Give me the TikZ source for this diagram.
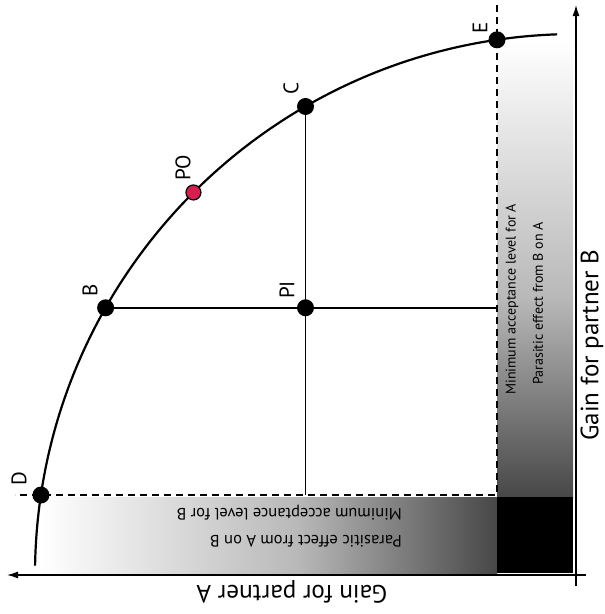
\documentclass[tikz,border=0pt]{standalone}
\usepackage{fontspec}
\setmainfont{PT Sans}
\usetikzlibrary{arrows.meta, positioning, calc}
\definecolor{PointRed}{RGB}{214,30,80}

\begin{document}
\begin{tikzpicture}[x=1pt, y=-1pt,
    dot/.style={circle, fill=black, inner sep=0pt, minimum size=17pt},
    redDot/.style={circle, fill=PointRed, draw=black, line width=1.2pt, inner sep=0pt, minimum size=15pt},
    ptlabel/.style={rotate=90, font=\fontsize{21}{25}\selectfont, inner sep=0pt},
    bandtextA/.style={font=\fontsize{14}{17}\selectfont, inner sep=0pt, rotate=90, anchor=west},
    bandtextB/.style={font=\fontsize{16.5}{19}\selectfont, inner sep=0pt, rotate=180, anchor=west},
    axistext/.style={font=\fontsize{25}{29}\selectfont, inner sep=0pt},
    guide/.style={dash pattern=on 7pt off 5pt, line width=1.3pt},
    axisline/.style={line width=1.3pt, -{Latex[length=11pt,width=7pt]}},
  ]
  \useasboundingbox (0,0) rectangle (605,614);

  % shaded bands and the corner square
  \shade[left color=white, right color=black!28] (40,497) rectangle (300,573);
  \shade[left color=black!28, right color=black!72] (299.5,497) rectangle (497,573);
  \shade[top color=white, bottom color=black!28] (497,40) rectangle (573,300);
  \shade[top color=black!28, bottom color=black!72] (497,299.5) rectangle (573,497);
  \fill[black] (497,497) rectangle (573,573);

  % minimum acceptance levels
  \coordinate (topV) at (497,5);
  \coordinate (corner) at (497,495);
  \coordinate (leftH) at (15,495);
  \draw[guide] (topV) -- (corner) -- (leftH);

  % axes
  \coordinate (O) at (576,575);
  \coordinate (xStart) at (586,575);
  \coordinate (xEnd) at (7,575);
  \coordinate (yStart) at (576,586);
  \coordinate (yEnd) at (576,5);
  \draw[axisline] (xStart) -- (xEnd);
  \draw[axisline] (yStart) -- (yEnd);

  % points on the frontier
  \path (O) ++(188.5:541) coordinate (pD);
  \path (O) ++(209.6:541) coordinate (pB);
  \path (O) ++(225:541) coordinate (pPO);
  \path (O) ++(240:541) coordinate (pC);
  \path (O) ++(261.6:541) coordinate (pE);
  \coordinate (Bstop) at (pB -| corner);
  \coordinate (Cstop) at (pC |- corner);

  \draw[line width=1.6pt] (pB) -- (Bstop);
  \draw[line width=1.6pt] (pC) -- (Cstop);
  \draw[line width=2.2pt] (O) ++(181:541) arc[start angle=181, end angle=268, radius=541];

  \node[dot] (D) at (pD) {};
  \node[dot] (B) at (pB) {};
  \node[redDot] (PO) at (pPO) {};
  \node[dot] (C) at (pC) {};
  \node[dot] (E) at (pE) {};
  \node[dot] (PI) at (pC |- pB) {};

  \node[ptlabel] (labD) at (19,479) {D};
  \node[ptlabel] (labB) at (90,290) {B};
  \node[ptlabel] (labPO) at (183,168) {PO};
  \node[ptlabel] (labC) at (291,88) {C};
  \node[ptlabel] (labE) at (480,28) {E};
  \node[ptlabel] (labPI) at (287,290) {PI};

  % band texts
  \node[bandtextA] (minA) at (512,395) {Minimum acceptance level for A};
  \node[bandtextA] (parA) at (538,385) {Parasitic effect from B on A};
  \node[bandtextB] (minB) at (402,513) {Minimum acceptance level for B};
  \node[bandtextB] (parB) at (402,541) {Parasitic effect from A on B};

  % axis titles
  \node[axistext, rotate=180] (gainA) at (292,592) {Gain for partner A};
  \node[axistext, rotate=90] (gainB) at (592,345) {Gain for partner B};
\end{tikzpicture}
\end{document}
